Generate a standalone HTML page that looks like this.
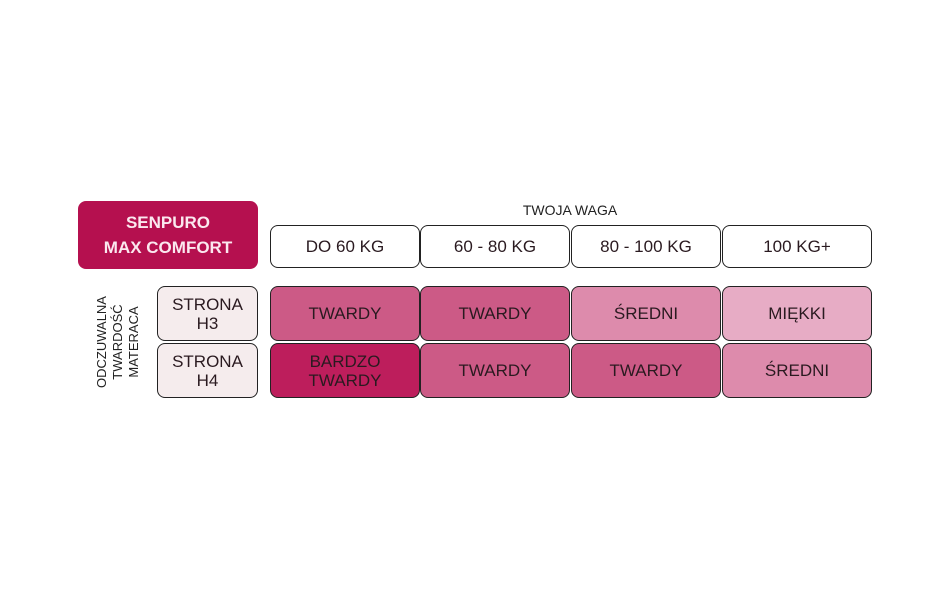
<!DOCTYPE html>
<html><head><style>
body{margin:0;width:950px;height:600px;background:#fff;position:relative;font-family:"Liberation Sans",sans-serif;overflow:hidden}
.b{position:absolute;box-sizing:border-box;border:1.5px solid #222;border-radius:8px;display:flex;align-items:center;justify-content:center;text-align:center;color:#2a1a20;font-size:17px;line-height:19px}
.h{background:#fff;top:225px;height:43px}
.r1{top:286px;height:55px}
.r2{top:343px;height:55px}
</style></head><body>
<div class="b" style="left:78px;top:201px;width:180px;height:68px;background:#b5104f;border:none;color:#fbe8ef;font-weight:bold;font-size:17px;line-height:25px">SENPURO<br>MAX COMFORT</div>
<div style="position:absolute;left:470px;top:202px;width:200px;text-align:center;font-size:14px;color:#222">TWOJA WAGA</div>
<div class="b h" style="left:270px;width:150px">DO 60 KG</div>
<div class="b h" style="left:420px;width:150px">60 - 80 KG</div>
<div class="b h" style="left:571px;width:150px">80 - 100 KG</div>
<div class="b h" style="left:722px;width:150px">100 KG+</div>
<div class="b r1" style="left:157px;width:101px;background:#f5eced">STRONA<br>H3</div>
<div class="b r2" style="left:157px;width:101px;background:#f5eced">STRONA<br>H4</div>
<div class="b r1" style="left:270px;width:150px;background:#cc5a86">TWARDY</div>
<div class="b r1" style="left:420px;width:150px;background:#cc5a86">TWARDY</div>
<div class="b r1" style="left:571px;width:150px;background:#dd8bac">ŚREDNI</div>
<div class="b r1" style="left:722px;width:150px;background:#e7acc5">MIĘKKI</div>
<div class="b r2" style="left:270px;width:150px;background:#bd1e5c">BARDZO<br>TWARDY</div>
<div class="b r2" style="left:420px;width:150px;background:#cc5a86">TWARDY</div>
<div class="b r2" style="left:571px;width:150px;background:#cc5a86">TWARDY</div>
<div class="b r2" style="left:722px;width:150px;background:#dd8bac">ŚREDNI</div>
<div style="position:absolute;left:58px;top:318px;width:120px;height:48px;transform:rotate(-90deg);text-align:center;font-size:13px;line-height:16px;color:#222">ODCZUWALNA<br>TWARDOŚĆ<br>MATERACA</div>
</body></html>
